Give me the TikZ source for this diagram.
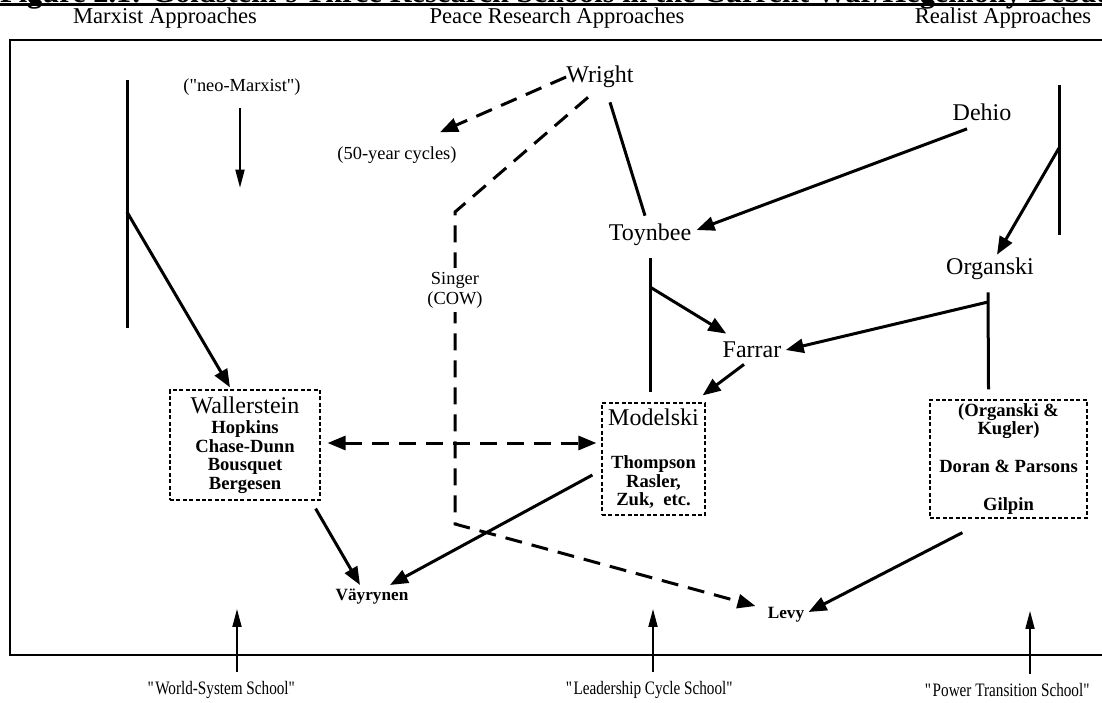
\documentclass[tikz,border=0pt]{standalone}
\usepackage{fontspec}
\setmainfont{Liberation Serif}
\newfontfamily\narrowserif[FakeStretch=0.8]{Liberation Serif}
\usetikzlibrary{arrows.meta,calc}
\begin{document}
\begin{tikzpicture}[x=0.5pt,y=-0.5pt,
	every node/.style={inner sep=0pt},
	colhead/.style={font=\fontsize{11.3}{13}\selectfont},
	who/.style={font=\fontsize{12}{14}\selectfont},
	minor/.style={font=\fontsize{9.2}{10}\selectfont},
	minorbf/.style={font=\bfseries\fontsize{8.6}{10}\selectfont},
	school/.style={font=\narrowserif\fontsize{9.5}{11}\selectfont},
	group/.style={draw,line width=0.6pt,dash pattern=on 2pt off 1.2pt,align=center,font=\bfseries\fontsize{9.3}{9.3}\selectfont},
	tie/.style={line width=1.5pt},
	link/.style={line width=1.5pt,-{Triangle[length=9pt,width=7pt]}},
	dlink/.style={link,dash pattern=on 8.5pt off 5pt},
	pointer/.style={line width=0.9pt,-{Triangle[length=9pt,width=4.5pt]}}
	]
	\useasboundingbox (0,0) rectangle (1102,702);
	\clip (0,0) rectangle (1102,702);
	% title, cut off at the top
	\node[anchor=base,font=\bfseries\fontsize{15.2}{17}\selectfont] (title) at (560,2.5) {Figure 2.1: Goldstein's Three Research Schools in the Current War/Hegemony Debate};
	\draw[line width=1.5pt] ($(title.base west)+(0,2)$) -- ($(title.base east)+(0,2)$);
	% column heads
	\node[colhead] (marx) at (165,18) {Marxist Approaches};
	\node[colhead] (peace) at (557,18) {Peace Research Approaches};
	\node[colhead] (real) at (1003,18) {Realist Approaches};
	\draw[line width=1pt] (10,40) rectangle (1130,655);
	% names
	\node[minor] (neo) at (242,87) {(\textquotedbl neo-Marxist\textquotedbl)};
	\node[who] (wright) at (600,77) {Wright};
	\node[minor] (cycles) at (397,155) {(50-year cycles)};
	\node[who] (dehio) at (982,112) {Dehio};
	\node[who] (toynbee) at (650,235) {Toynbee};
	\node[who] (organski) at (990,269) {Organski};
	\node[who] (farrar) at (752,350) {Farrar};
	\node[minorbf] (vay) at (372,597) {Väyrynen};
	\node[minorbf] (levy) at (786,615) {Levy};
	% the three schools
	\node[group,minimum width=75pt,minimum height=55pt] (waller) at (245,445)
		{{\mdseries\fontsize{12}{10}\selectfont Wallerstein}\\[1pt]Hopkins\\Chase-Dunn\\Bousquet\\Bergesen};
	\node[group,minimum width=51.5pt,minimum height=56pt] (modelski) at (653.5,459)
		{{\mdseries\fontsize{12}{10}\selectfont Modelski}\\[12pt]Thompson\\Rasler,\\Zuk,\ \ etc.};
	\node[group,minimum width=78.5pt,minimum height=59pt] (orgbox) at (1008.5,459)
		{(Organski \&\\Kugler)\\[9.5pt]Doran \& Parsons\\[10pt]Gilpin};
	% school labels
	\node[school] (ws) at (222,690) {\textquotedbl World-System School\textquotedbl};
	\node[school] (lc) at (650,690) {\textquotedbl Leadership Cycle School\textquotedbl};
	\node[school] (pt) at (1008,690) {\textquotedbl Power Transition School\textquotedbl};
	% junctions
	\coordinate (ltop) at (127,80);
	\coordinate (lbot) at (127,328);
	\coordinate (lmid) at (127,212);
	\coordinate (rtop) at (1059,85);
	\coordinate (rbot) at (1059,235);
	\coordinate (rmid) at (1059,148);
	\coordinate (tjoin) at (650,287);
	\coordinate (ojoin) at (988,302);
	\coordinate (sg1) at (455,212);
	\coordinate (sg2) at (455,524);
	% Marxist side
	\draw[tie] (ltop) -- (lbot);
	\draw[link] (lmid) -- ($(waller.north)+(-15,-2)$);
	\draw[pointer] ($(neo.south)+(-2,12)$) -- ($(neo.south)+(-2,92)$);
	% peace research side
	\draw[dlink] (wright.west) -- ($(cycles.north)+(43,-14)$);
	\draw[dlink] ($(wright.south)+(-12,9)$) -- (sg1) -- (sg2) -- ($(levy.west)+(-12,-9)$);
	\node[minor,fill=white,align=center,inner sep=2pt] (singer) at (455,290) {Singer\\(COW)};
	\draw[tie] ($(wright.south)+(10,14)$) -- ($(toynbee.north)+(-5,-8)$);
	\draw[tie] ($(toynbee.south)+(0,12)$) -- ($(modelski.north)+(-3.5,-10)$);
	\draw[link] (tjoin) -- ($(farrar.north west)+(4,-8)$);
	\draw[link] ($(farrar.south)+(-8,6)$) -- ($(modelski.north east)+(-3,-7)$);
	% realist side
	\draw[tie] (rtop) -- (rbot);
	\draw[link] (rmid) -- ($(organski.north)+(7,-3)$);
	\draw[link] ($(dehio.south)+(-15,8)$) -- ($(toynbee.east)+(5,-5)$);
	\draw[tie] ($(organski.south)+(-2,12)$) -- ($(orgbox.north)+(-20,-10)$);
	\draw[link] (ojoin) -- ($(farrar.east)+(4,0)$);
	% links between schools
	\draw[dlink,{Triangle[length=9pt,width=7pt]}-{Triangle[length=9pt,width=7pt]}] ($(waller.east)+(7,-2)$) -- ($(waller.east -| modelski.west)+(-5,-2)$);
	\draw[link] ($(waller.south east)+(-5,8)$) -- ($(vay.north)+(-12,-4)$);
	\draw[link] ($(modelski.west)+(-9,16)$) -- ($(vay.north)+(18,-4)$);
	\draw[link] ($(orgbox.south west)+(33,14)$) -- ($(levy.east)+(4,-3)$);
	% school arrows
	\draw[pointer] ($(ws.north)+(15,-9)$) -- ($(ws.north)+(15,-72)$);
	\draw[pointer] ($(lc.north)+(3,-9)$) -- ($(lc.north)+(3,-72)$);
	\draw[pointer] ($(pt.north)+(22,-9)$) -- ($(pt.north)+(22,-72)$);
\end{tikzpicture}
\end{document}
